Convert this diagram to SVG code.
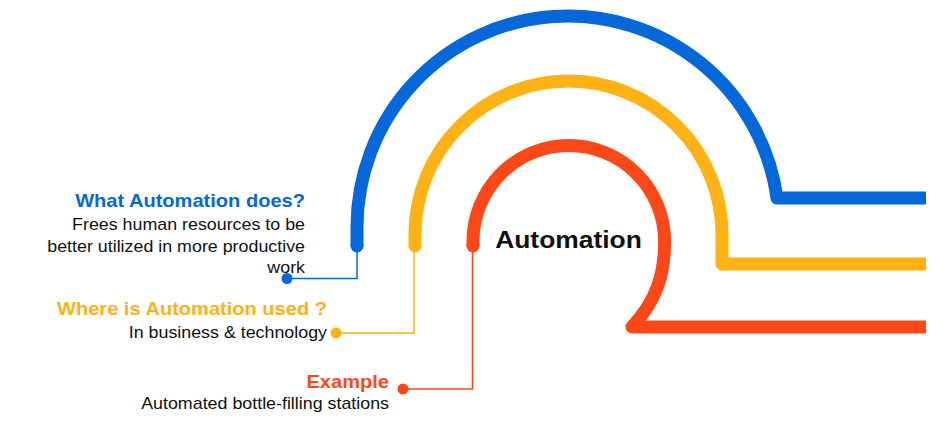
<svg xmlns="http://www.w3.org/2000/svg" width="943" height="422" viewBox="0 0 943 422">
  <style>
    .band { fill: none; stroke-width: 13; stroke-linecap: butt; stroke-linejoin: round; }
    .lead { fill: none; stroke-width: 1.5; }
    .title { font-family: "Liberation Sans", Arial, sans-serif; font-weight: bold; font-size: 18px; text-anchor: end; }
    .body { font-family: "Liberation Sans", Arial, sans-serif; font-size: 16px; fill: #111; text-anchor: end; }
    .blue { stroke: #0468DB; }
    .yellow { stroke: #FEB213; }
    .red { stroke: #FC4819; }
  </style>

  <rect width="943" height="422" fill="#ffffff"/>

  <!-- concentric bands: rounded at the left foot, cut square at the right -->
  <g id="bands">
    <path id="band-blue" class="band blue" d="M357 246 L357 227.5 A211 211 0 0 1 777 198 L926 198"/>
    <circle cx="357" cy="246" r="6.5" fill="#0468DB"/>
    <path id="band-yellow" class="band yellow" d="M415 246 L415 234.5 A153.5 153.5 0 0 1 722 234.5 L722 264 L926 264"/>
    <circle cx="415" cy="246" r="6.5" fill="#FEB213"/>
    <path id="band-red" class="band red" d="M473 246 L473 241.3 A95.8 95.8 0 0 1 664.6 241.3 C664.6 274 657 300 632 327 L926 327"/>
    <circle cx="473" cy="246" r="6.5" fill="#FC4819"/>
  </g>

  <!-- leader lines from band ends to the labels -->
  <g id="connectors">
    <polyline class="lead blue" points="357,246 357,278.5 287,278.5"/>
    <polyline class="lead yellow" points="414,246 414,333 336,333"/>
    <polyline class="lead red" points="472.5,246 472.5,389 403,389"/>
    <circle cx="287" cy="278.5" r="5.5" fill="#0468DB"/>
    <circle cx="336" cy="333" r="5.5" fill="#FEB213"/>
    <circle cx="403" cy="389" r="5.5" fill="#FC4819"/>
  </g>

  <g id="center">
    <text x="568.5" y="248" transform="translate(568.5 0) scale(1.1 1) translate(-568.5 0)" font-family="Liberation Sans, Arial, sans-serif" font-weight="bold" font-size="24" fill="#111" text-anchor="middle">Automation</text>
  </g>

  <g id="what" transform="translate(305 0) scale(1.115 1) translate(-305 0)">
    <text class="title" x="305" y="207.3" fill="#0468DB">What Automation does?</text>
    <text class="body" x="305" y="230">Frees human resources to be</text>
    <text class="body" x="305" y="251.7">better utilized in more productive</text>
    <text class="body" x="305" y="272.7">work</text>
  </g>

  <g id="where" transform="translate(327 0) scale(1.115 1) translate(-327 0)">
    <text class="title" x="327" y="315" fill="#FEB213">Where is Automation used ?</text>
    <text class="body" x="327" y="337.7">In business &amp; technology</text>
  </g>

  <g id="example" transform="translate(389 0) scale(1.115 1) translate(-389 0)">
    <text class="title" x="389" y="388" fill="#FC4819">Example</text>
    <text class="body" x="389" y="409">Automated bottle-filling stations</text>
  </g>
</svg>
